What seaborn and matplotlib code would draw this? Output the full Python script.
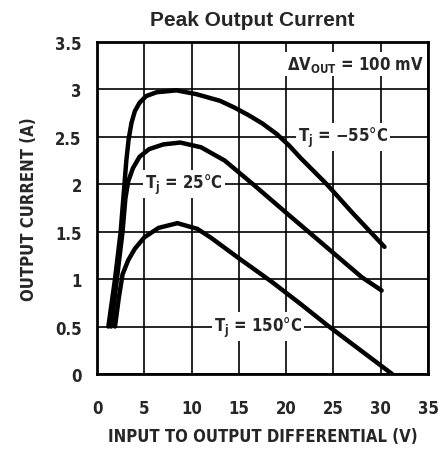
import numpy as np
import pandas as pd
import matplotlib
matplotlib.use('Agg')
import matplotlib.pyplot as plt
import seaborn as sns

# Curve values
x_m55 = [1.2, 1.9, 2.5, 2.9, 3.1, 3.35, 3.65, 4.0, 4.5, 5.2, 6.3, 8.4, 10.5, 13.0, 14.5, 16.0, 17.5,
         19.0, 20.3, 21.5, 24.3, 27.0, 30.4]
y_m55 = [0.5, 1.0, 1.5, 2.0, 2.25, 2.48, 2.65, 2.77, 2.86, 2.93, 2.97, 2.99, 2.95, 2.88, 2.81, 2.73, 2.64,
         2.53, 2.41, 2.28, 2.0, 1.70, 1.34]

x_25 = [1.5, 2.1, 2.7, 3.0, 3.3, 3.8, 4.5, 5.5, 7.0, 8.8, 11.0, 13.5, 16.5, 20.0, 24.0, 28.0, 30.1]
y_25 = [0.5, 1.0, 1.5, 1.85, 2.03, 2.17, 2.29, 2.37, 2.42, 2.44, 2.39, 2.25, 2.0, 1.70, 1.36, 1.02, 0.88]

x_150 = [1.9, 2.3, 2.7, 3.3, 4.0, 5.0, 6.5, 8.5, 10.6, 12.0, 15.0, 18.5, 21.5, 24.4, 28.0, 31.2]
y_150 = [0.5, 0.8, 1.05, 1.2, 1.32, 1.44, 1.54, 1.59, 1.53, 1.44, 1.22, 0.97, 0.74, 0.51, 0.24, 0.0]

x_ticks = [0, 5, 10, 15, 20, 25, 30, 35]
y_ticks = [0, 0.5, 1, 1.5, 2, 2.5, 3, 3.5]
y_ticklabels = ["0", "0.5", "1", "1.5", "2", "2.5", "3", "3.5"]

sns.set_style('white')
plt.rcParams['font.family'] = ['DejaVu Sans']
plt.rcParams['font.stretch'] = 'condensed'
plt.rcParams['mathtext.fontset'] = 'custom'
plt.rcParams['mathtext.rm'] = 'DejaVu Sans:bold'
plt.rcParams['mathtext.it'] = 'DejaVu Sans:bold'
plt.rcParams['mathtext.bf'] = 'DejaVu Sans:bold'

fig = plt.figure(figsize=(4.41, 4.52), dpi=100)
ax = fig.add_axes([0.22, 0.1704, 0.7505, 0.7345])

for xs, ys in [(x_m55, y_m55), (x_25, y_25), (x_150, y_150)]:
    df = pd.DataFrame({'x': xs, 'y': ys})
    sns.lineplot(data=df, x='x', y='y', sort=False, ax=ax, color='black',
                 linewidth=3.2, solid_joinstyle='round', solid_capstyle='round', zorder=5)

ax.set_xlim(0, 35)
ax.set_ylim(0, 3.5)
ax.set_xticks(x_ticks)
ax.set_yticks(y_ticks)
ax.set_xticklabels([str(v) for v in x_ticks], fontsize=12, fontweight='bold')
ax.set_yticklabels(y_ticklabels, fontsize=12, fontweight='bold')
ax.tick_params(axis='x', length=0, pad=18)
ax.tick_params(axis='y', length=0, pad=11)
ax.grid(True, color='black', linewidth=1.2)
for s in ax.spines.values():
    s.set_color('black')
    s.set_linewidth(2)

ax.set_xlabel('INPUT TO OUTPUT DIFFERENTIAL (V)', fontsize=12, fontweight='bold', labelpad=7)
ax.set_ylabel('OUTPUT CURRENT (A)', fontsize=12, fontweight='bold', labelpad=12)
fig.text(0.571, 0.942, 'Peak Output Current', fontsize=15, fontweight='bold',
         family=['Liberation Sans', 'DejaVu Sans'], fontstretch='normal',
         ha='center', va='baseline')

# labels sit on white patches that break the grid lines
box = dict(facecolor='white', edgecolor='none', pad=1.5)
ax.text(34.6, 3.27, r'$\Delta$V$_{\mathregular{OUT}}$ = 100 mV', ha='right', va='center',
        fontsize=12, fontweight='bold', bbox=box, zorder=4)
ax.text(26.0, 2.5, r'T$_{\mathregular{j}}$ = $-$55°C', ha='center', va='center',
        fontsize=12, fontweight='bold', bbox=box, zorder=4)
ax.text(9.2, 2.0, r'T$_{\mathregular{j}}$ = 25°C', ha='center', va='center',
        fontsize=12, fontweight='bold', bbox=box, zorder=4)
ax.text(17.0, 0.5, r'T$_{\mathregular{j}}$ = 150°C', ha='center', va='center',
        fontsize=12, fontweight='bold', bbox=box, zorder=4)

fig.savefig('out.png', dpi=100)
